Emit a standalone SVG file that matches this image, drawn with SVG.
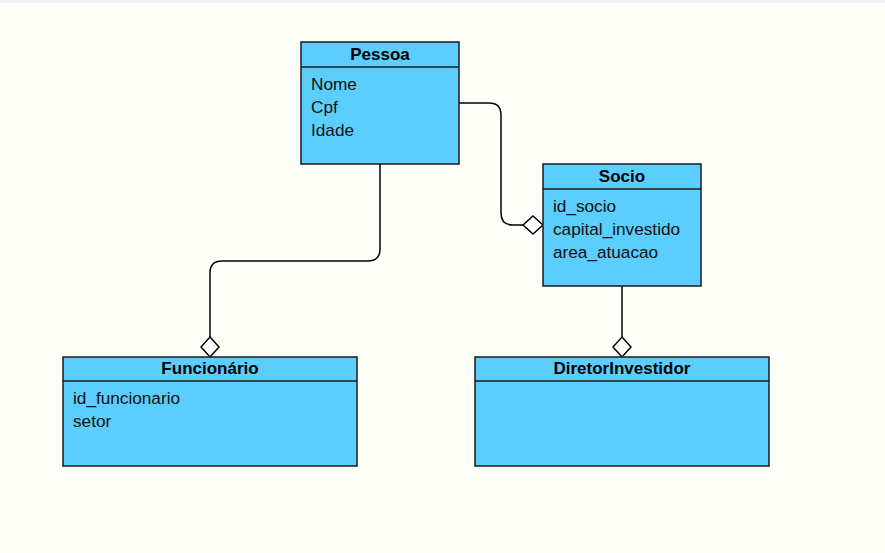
<svg xmlns="http://www.w3.org/2000/svg" width="885" height="553" viewBox="0 0 885 553">
<style>
.box{fill:#5bcefd;stroke:#1a1a1a;stroke-width:1.5}
.sep{stroke:#1a1a1a;stroke-width:1.5}
.t{font-family:"Liberation Sans",Arial,sans-serif;font-size:17px;font-weight:bold;fill:#000;text-anchor:middle}
.a{font-family:"Liberation Sans",Arial,sans-serif;font-size:17.2px;fill:#111}
.c{fill:none;stroke:#000;stroke-width:1.5}
.d{fill:#fff;stroke:#000;stroke-width:1.5}
</style>
<rect x="0" y="0" width="885" height="553" fill="#fffffa"/>
<rect x="0" y="0" width="885" height="3" fill="#eef2f4"/>
<g id="connectors">
<path class="c" d="M380,164 V249 Q380,261 368,261 H222 Q210,261 210,273 V337"/>
<polygon class="d" points="210,337 219,347 210,357 201,347"/>
<path class="c" d="M459,103 H489 Q501,103 501,115 V213 Q501,225 513,225 H523"/>
<polygon class="d" points="523,225 533,216 543,225 533,234"/>
<path class="c" d="M622,286 V337"/>
<polygon class="d" points="622,337 631,347 622,357 613,347"/>
</g>
<g id="pessoa">
<rect class="box" x="301" y="42" width="158" height="122"/>
<line class="sep" x1="301" y1="67" x2="459" y2="67"/>
<text class="t" x="380" y="60">Pessoa</text>
<text class="a" x="311" y="90">Nome</text>
<text class="a" x="311" y="113">Cpf</text>
<text class="a" x="311" y="136">Idade</text>
</g>
<g id="socio">
<rect class="box" x="543" y="164" width="158" height="122"/>
<line class="sep" x1="543" y1="189" x2="701" y2="189"/>
<text class="t" x="622" y="182">Socio</text>
<text class="a" x="553" y="212">id_socio</text>
<text class="a" x="553" y="235">capital_investido</text>
<text class="a" x="553" y="258">area_atuacao</text>
</g>
<g id="funcionario">
<rect class="box" x="63" y="357" width="294" height="109"/>
<line class="sep" x1="63" y1="381" x2="357" y2="381"/>
<text class="t" x="210" y="374">Funcionário</text>
<text class="a" x="73" y="404">id_funcionario</text>
<text class="a" x="73" y="427">setor</text>
</g>
<g id="diretor">
<rect class="box" x="475" y="357" width="294" height="109"/>
<line class="sep" x1="475" y1="381" x2="769" y2="381"/>
<text class="t" x="622" y="374">DiretorInvestidor</text>
</g>
</svg>
